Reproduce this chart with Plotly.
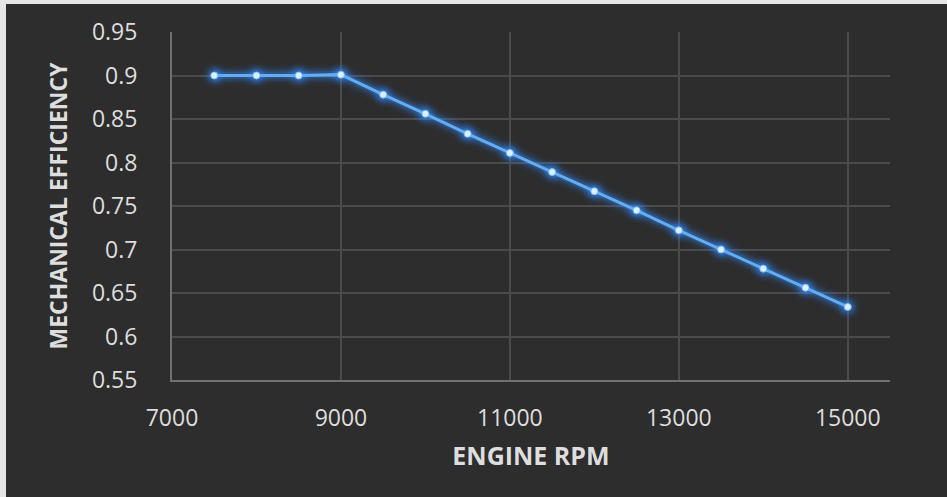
import plotly.graph_objects as go

rpm = [7500, 8000, 8500, 9000, 9500, 10000, 10500, 11000, 11500, 12000,
       12500, 13000, 13500, 14000, 14500, 15000]
efficiency = [0.900, 0.900, 0.900, 0.901, 0.878, 0.856, 0.833, 0.811, 0.789,
              0.767, 0.745, 0.722, 0.700, 0.678, 0.656, 0.634]
x_ticks = [7000, 9000, 11000, 13000, 15000]
x_labels = ["7000", "9000", "11000", "13000", "15000"]
y_ticks = [0.55, 0.6, 0.65, 0.7, 0.75, 0.8, 0.85, 0.9, 0.95]
y_labels = ["0.55", "0.6", "0.65", "0.7", "0.75", "0.8", "0.85", "0.9", "0.95"]

fig = go.Figure()
# glow layers
for w, a in [(20, 0.05), (15, 0.08), (11, 0.13), (7, 0.22)]:
    fig.add_trace(go.Scatter(x=rpm, y=efficiency, mode="lines+markers",
                             line=dict(color=f"rgba(50,140,255,{a})", width=w),
                             marker=dict(size=w + 6, color=f"rgba(50,140,255,{a})"),
                             hoverinfo="skip", showlegend=False))
fig.add_trace(go.Scatter(x=rpm, y=efficiency, mode="lines+markers",
                         line=dict(color="#62adf4", width=3),
                         marker=dict(size=7, color="#dcefff",
                                     line=dict(color="#7abcf7", width=1)),
                         showlegend=False))

L, R, T, B = 172, 57, 32, 117
PW, PH = 947 - L - R, 497 - T - B

fig.update_layout(
    width=947, height=497,
    margin=dict(l=L, r=R, t=T, b=B),
    paper_bgcolor="#2d2d2d", plot_bgcolor="#2d2d2d",
    font=dict(family="Open Sans", color="#dedede", size=23),
    xaxis=dict(range=[7000, 15500], tickvals=x_ticks, ticktext=x_labels,
               showgrid=True, gridcolor="#4b4b4b", gridwidth=1.5, zeroline=False,
               showline=True, linecolor="#707070", linewidth=2,
               ticks="", ticklabelstandoff=16, tickfont=dict(size=23),
               title=dict(text="<b>ENGINE RPM</b>", font=dict(size=25, color="#dedede"),
                          standoff=16)),
    yaxis=dict(range=[0.55, 0.95], tickvals=y_ticks, ticktext=y_labels,
               showgrid=True, gridcolor="#4b4b4b", gridwidth=1.5, zeroline=False,
               showline=True, linecolor="#707070", linewidth=2,
               ticks="", ticklabelstandoff=28, tickfont=dict(size=23),
               title=dict(text="<b>MECHANICAL EFFICIENCY</b>",
                          font=dict(size=23, color="#dedede"), standoff=18)),
)
# light frame at top and left edges of the picture
fig.add_shape(type="rect", xref="paper", yref="paper",
              x0=-L / PW, x1=(947 - L) / PW, y0=1 + (T - 4) / PH, y1=1 + T / PH,
              line=dict(width=0), fillcolor="#e6e6e6", layer="above")
fig.add_shape(type="rect", xref="paper", yref="paper",
              x0=-L / PW, x1=(6 - L) / PW, y0=-B / PH, y1=1 + T / PH,
              line=dict(width=0), fillcolor="#e6e6e6", layer="above")

fig.write_html("out.html")
